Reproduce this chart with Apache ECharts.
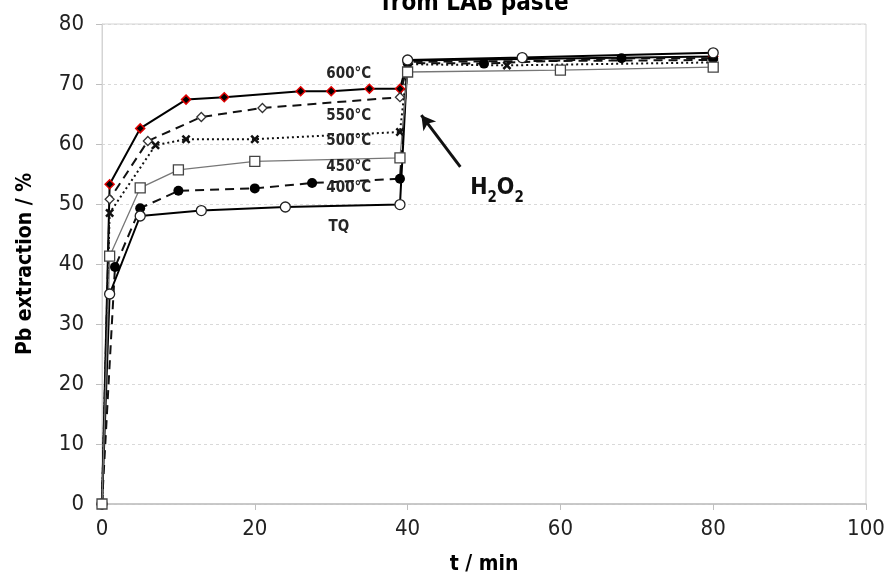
<!DOCTYPE html>
<html>
<head>
<meta charset="UTF-8">
<title>Pb extraction</title>
<script src="https://cdn.jsdelivr.net/npm/echarts@6/dist/echarts.min.js"></script>
<style>
html, body { margin: 0; padding: 0; background: #fff; }
#chart { width: 891px; height: 581px; }
</style>
</head>
<body>
<div id="chart"></div>
<script>
// data: [t (min), Pb extraction (%)]
const tq = [[0, 0], [1, 35], [5, 48], [13, 48.9], [24, 49.5], [39, 49.9], [40, 74], [55, 74.4], [80, 75.2]];
const c400 = [[0, 0], [1.7, 39.5], [5, 49.3], [10, 52.2], [20, 52.6], [27.5, 53.5], [39, 54.2], [40, 73.5], [50, 73.4], [68, 74.3], [80, 74.3]];
const c450 = [[0, 0], [1, 41.3], [5, 52.7], [10, 55.7], [20, 57.1], [39, 57.7], [40, 72], [60, 72.3], [80, 72.8]];
const c500 = [[0, 0], [1, 48.5], [7, 59.8], [11, 60.8], [20, 60.8], [39, 62], [40, 73.3], [53, 73.1], [80, 73.6]];
const c550 = [[0, 0], [1, 50.8], [6, 60.5], [13, 64.5], [21, 66], [39, 67.8], [40, 73.7], [80, 74]];
const c600 = [[0, 0], [1, 53.3], [5, 62.6], [11, 67.4], [16, 67.8], [26, 68.8], [30, 68.8], [35, 69.2], [39, 69.2], [40, 73.9], [80, 74.6]];

const curveLabels = ['600°C', '550°C', '500°C', '450°C', '400°C', 'TQ'];
const labelAt = [[32.3, 71.6], [32.3, 64.6], [32.3, 60.4], [32.3, 56.2], [32.3, 52.7], [31, 46.2]];
const arrowFrom = [46.9, 56.2];
const arrowTo = [41.8, 64.8];
const h2o2At = [51.7, 52.6];

const xTicks = [0, 20, 40, 60, 80, 100];
const yTicks = [0, 10, 20, 30, 40, 50, 60, 70, 80];

const font = "'Liberation Sans Narrow', 'DejaVu Sans Condensed', 'Liberation Sans', sans-serif";
const xMark = 'path://M2,0 L5,3 L8,0 L10,2 L7,5 L10,8 L8,10 L5,7 L2,10 L0,8 L3,5 L0,2 Z';

const chart = echarts.init(document.getElementById('chart'));

function lbl(i) {
  return {
    coord: labelAt[i], symbolSize: 0,
    label: { show: true, formatter: curveLabels[i], position: 'inside', color: '#262626',
      fontSize: 15, fontWeight: 'bold', fontFamily: font }
  };
}

chart.setOption({
  animation: false,
  title: {
    text: 'from LAB paste', left: 470, textAlign: 'center', top: -13,
    textStyle: { fontSize: 24, fontWeight: 'bold', color: '#000', fontFamily: font }
  },
  grid: { left: 102, right: 25, top: 24, bottom: 77, show: true, borderColor: '#d4d4d4', borderWidth: 1 },
  xAxis: {
    type: 'value', min: 0, max: 100, interval: 20,
    name: 't / min', nameLocation: 'middle', nameGap: 50,
    nameTextStyle: { fontSize: 21, fontWeight: 'bold', color: '#000', fontFamily: font },
    axisLine: { lineStyle: { color: '#bfbfbf', width: 1.5 } },
    axisTick: { show: true, length: 6, lineStyle: { color: '#bfbfbf' } },
    axisLabel: { fontSize: 22, color: '#222', margin: 14, fontFamily: font,
      formatter: v => xTicks.includes(v) ? String(v) : '' },
    splitLine: { show: false }
  },
  yAxis: {
    type: 'value', min: 0, max: 80, interval: 10,
    name: 'Pb extraction / %', nameLocation: 'middle', nameGap: 66,
    nameTextStyle: { fontSize: 21, fontWeight: 'bold', color: '#000', fontFamily: font },
    axisLine: { show: true, lineStyle: { color: '#d4d4d4' } },
    axisTick: { show: true, length: 6, lineStyle: { color: '#bfbfbf' } },
    axisLabel: { fontSize: 22, color: '#222', margin: 18, fontFamily: font,
      formatter: v => yTicks.includes(v) ? String(v) : '' },
    splitLine: { show: true, lineStyle: { color: '#d9d9d9', type: [3, 3] } }
  },
  series: [
    {
      name: '600°C', type: 'line', data: c600, symbol: 'diamond', symbolSize: 9,
      lineStyle: { color: '#000', width: 2 },
      itemStyle: { color: '#000', borderColor: '#e00000', borderWidth: 1.5 },
      markPoint: { data: [lbl(0), lbl(1), lbl(2), lbl(3), lbl(4), lbl(5),
        { coord: h2o2At, symbolSize: 0,
          label: { show: true, position: 'inside', formatter: '{m|H}{s|2}{m|O}{s|2}',
            rich: {
              m: { fontSize: 23, fontWeight: 'bold', color: '#111', fontFamily: font, lineHeight: 22, verticalAlign: 'middle' },
              s: { fontSize: 15, fontWeight: 'bold', color: '#111', fontFamily: font, lineHeight: 34, verticalAlign: 'bottom' }
            } } }
      ] },
      markLine: {
        silent: true, symbol: ['none', 'arrow'], symbolSize: [12, 14],
        lineStyle: { color: '#111', width: 3, type: 'solid' },
        label: { show: false },
        data: [[{ coord: arrowFrom }, { coord: arrowTo }]]
      }
    },
    {
      name: '550°C', type: 'line', data: c550, symbol: 'diamond', symbolSize: 9,
      lineStyle: { color: '#111', width: 2, type: [9, 6] },
      itemStyle: { color: '#fff', borderColor: '#333', borderWidth: 1.3 }
    },
    {
      name: '500°C', type: 'line', data: c500, symbol: xMark, symbolSize: 9,
      lineStyle: { color: '#111', width: 2, type: [2, 3] },
      itemStyle: { color: '#111' }
    },
    {
      name: '400°C', type: 'line', data: c400, symbol: 'circle', symbolSize: 10,
      lineStyle: { color: '#111', width: 2, type: [9, 6] },
      itemStyle: { color: '#000' }
    },
    {
      name: 'TQ', type: 'line', data: tq, symbol: 'circle', symbolSize: 10,
      lineStyle: { color: '#000', width: 2 },
      itemStyle: { color: '#fff', borderColor: '#222', borderWidth: 1.3 }
    },
    {
      name: '450°C', type: 'line', data: c450, symbol: 'rect', symbolSize: 10,
      lineStyle: { color: '#777', width: 1.3 },
      itemStyle: { color: '#fff', borderColor: '#444', borderWidth: 1.3 }
    }
  ]
});
</script>
</body>
</html>
